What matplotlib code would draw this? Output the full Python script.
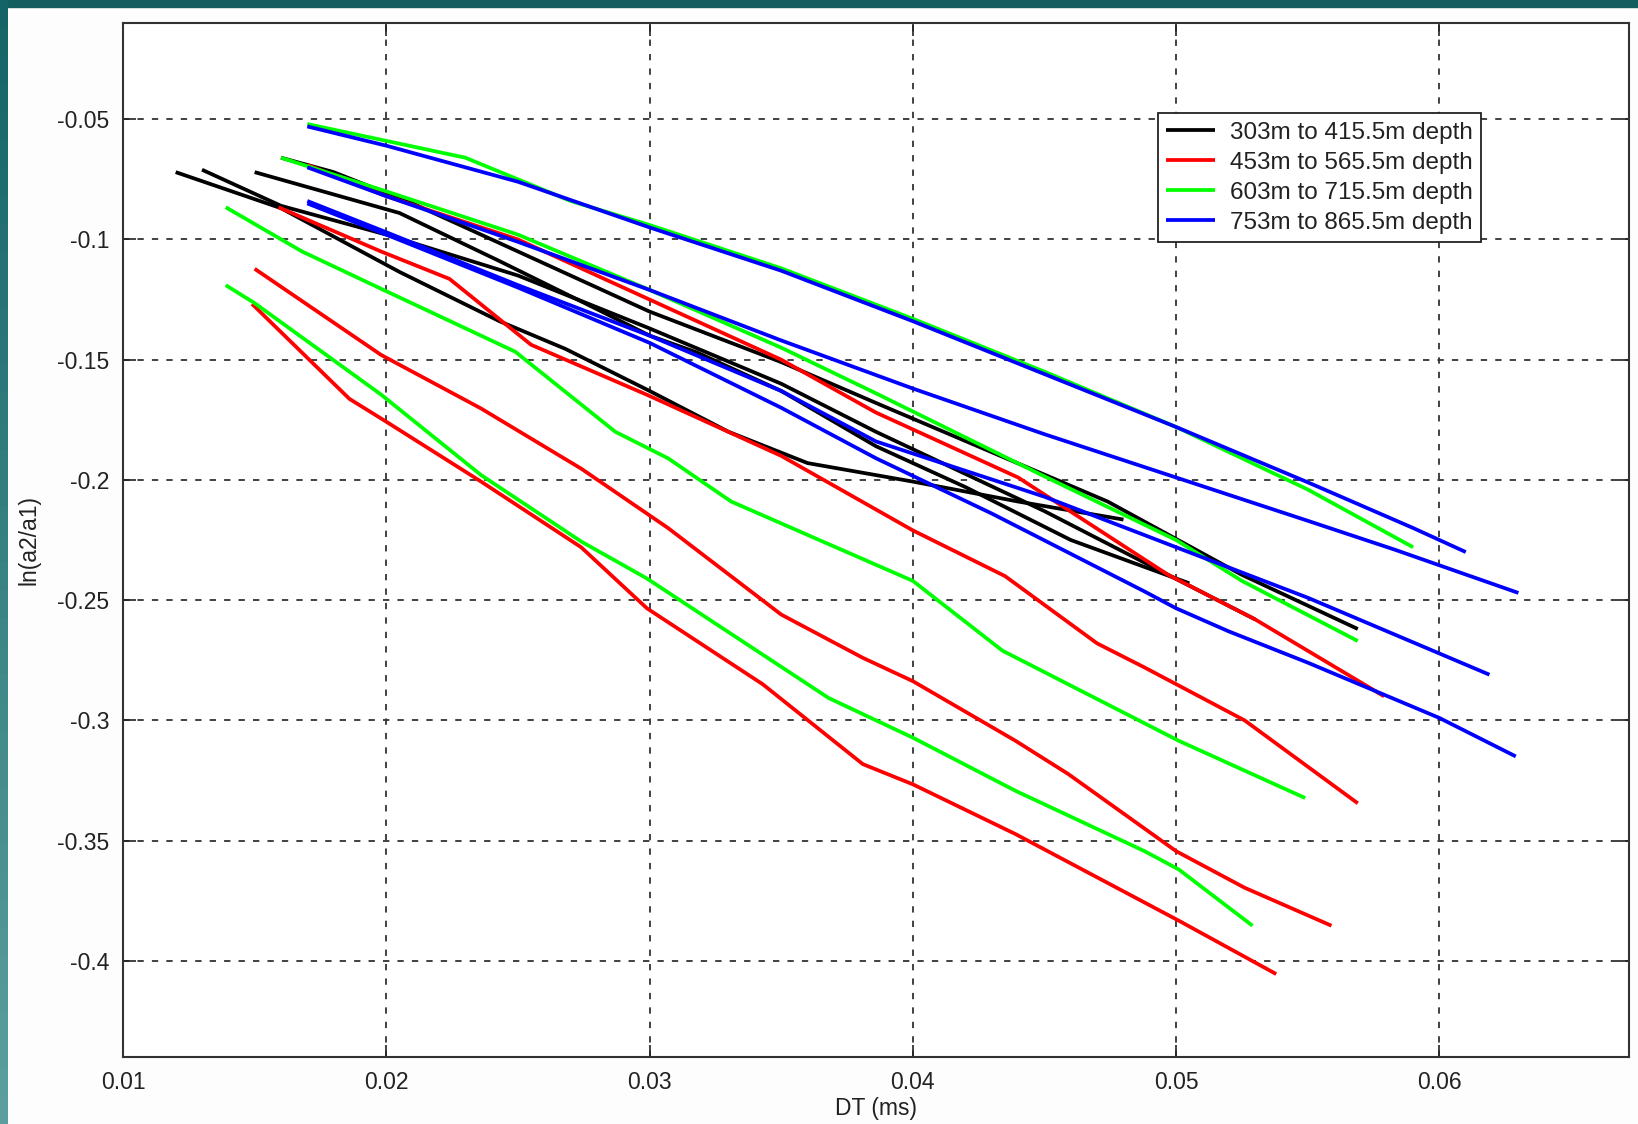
import numpy as np
import matplotlib
matplotlib.use('Agg')
import matplotlib.pyplot as plt
from matplotlib.patches import Rectangle

plt.rcParams['font.family'] = ['Liberation Sans', 'DejaVu Sans']

# legend labels, one colour per depth window
labels = ['303m to 415.5m depth', '453m to 565.5m depth',
          '603m to 715.5m depth', '753m to 865.5m depth']
colors = ['#000000', '#ff0000', '#00ff00', '#0000ff']

# black curves (303m to 415.5m)
k1_x = [0.012, 0.016, 0.0205, 0.0243, 0.0268, 0.030, 0.033, 0.036, 0.040, 0.044, 0.048]
k1_y = [-0.072, -0.087, -0.1135, -0.134, -0.1455, -0.163, -0.180, -0.193, -0.2007, -0.209, -0.2165]
k2_x = [0.013, 0.016, 0.020, 0.025, 0.030, 0.035, 0.0386, 0.045, 0.0497, 0.053]
k2_y = [-0.071, -0.086, -0.098, -0.115, -0.137, -0.160, -0.180, -0.213, -0.2395, -0.258]
k3_x = [0.015, 0.0205, 0.0243, 0.028, 0.030, 0.0318, 0.035, 0.0386, 0.042, 0.046, 0.0505]
k3_y = [-0.072, -0.089, -0.109, -0.129, -0.140, -0.147, -0.163, -0.186, -0.203, -0.225, -0.243]
k4_x = [0.016, 0.018, 0.021, 0.025, 0.030, 0.035, 0.0386, 0.0474, 0.0525, 0.0569]
k4_y = [-0.066, -0.072, -0.085, -0.105, -0.130, -0.151, -0.168, -0.209, -0.2395, -0.262]

# red curves (453m to 565.5m)
r1_x = [0.017, 0.020, 0.025, 0.030, 0.035, 0.0386, 0.044, 0.0497, 0.053, 0.0579]
r1_y = [-0.069, -0.082, -0.100, -0.125, -0.150, -0.172, -0.199, -0.2395, -0.258, -0.290]
r2_x = [0.0159, 0.0198, 0.0224, 0.0255, 0.0299, 0.035, 0.040, 0.0435, 0.047, 0.0488, 0.0526, 0.0569]
r2_y = [-0.0866, -0.105, -0.1164, -0.1438, -0.1646, -0.190, -0.221, -0.240, -0.268, -0.278, -0.300, -0.3345]
r3_x = [0.015, 0.0198, 0.0236, 0.0274, 0.0307, 0.035, 0.0381, 0.040, 0.0439, 0.0459, 0.050, 0.0526, 0.0559]
r3_y = [-0.1122, -0.148, -0.1703, -0.1953, -0.220, -0.256, -0.274, -0.2837, -0.3085, -0.3223, -0.3544, -0.3696, -0.3854]
r4_x = [0.0149, 0.0186, 0.020, 0.0236, 0.0274, 0.0299, 0.0343, 0.0381, 0.040, 0.0439, 0.0501, 0.0538]
r4_y = [-0.1268, -0.1663, -0.1758, -0.2007, -0.228, -0.2534, -0.285, -0.3182, -0.3266, -0.3473, -0.3833, -0.4055]

# green curves (603m to 715.5m)
g1_x = [0.017, 0.020, 0.023, 0.025, 0.027, 0.030, 0.035, 0.040, 0.045, 0.050, 0.055, 0.059]
g1_y = [-0.052, -0.059, -0.066, -0.075, -0.084, -0.094, -0.112, -0.133, -0.155, -0.178, -0.204, -0.228]
g2_x = [0.016, 0.018, 0.020, 0.025, 0.030, 0.035, 0.0386, 0.0449, 0.050, 0.0525, 0.0569]
g2_y = [-0.066, -0.073, -0.080, -0.098, -0.121, -0.145, -0.164, -0.198, -0.225, -0.242, -0.267]
g3_x = [0.0139, 0.0168, 0.0198, 0.0249, 0.0287, 0.0307, 0.0331, 0.040, 0.0434, 0.0501, 0.0549]
g3_y = [-0.0866, -0.105, -0.1205, -0.1467, -0.180, -0.191, -0.209, -0.242, -0.271, -0.3085, -0.3323]
g4_x = [0.0139, 0.015, 0.0198, 0.0236, 0.0274, 0.0299, 0.0368, 0.040, 0.0439, 0.0488, 0.0501, 0.0529]
g4_y = [-0.119, -0.1265, -0.1645, -0.198, -0.2256, -0.241, -0.2907, -0.3072, -0.3293, -0.3544, -0.362, -0.3854]

# blue curves (753m to 865.5m)
b1_x = [0.017, 0.020, 0.025, 0.030, 0.035, 0.040, 0.045, 0.050, 0.055, 0.059, 0.061]
b1_y = [-0.053, -0.061, -0.076, -0.095, -0.113, -0.134, -0.156, -0.178, -0.201, -0.220, -0.230]
b2_x = [0.017, 0.020, 0.025, 0.030, 0.035, 0.040, 0.045, 0.050, 0.055, 0.0583, 0.063]
b2_y = [-0.070, -0.082, -0.101, -0.121, -0.142, -0.162, -0.181, -0.199, -0.217, -0.229, -0.247]
b3_x = [0.017, 0.020, 0.025, 0.030, 0.035, 0.0386, 0.045, 0.050, 0.055, 0.0619]
b3_y = [-0.084, -0.097, -0.119, -0.140, -0.163, -0.184, -0.207, -0.228, -0.249, -0.281]
b4_x = [0.017, 0.020, 0.025, 0.030, 0.035, 0.0386, 0.043, 0.0488, 0.050, 0.052, 0.055, 0.060, 0.0629]
b4_y = [-0.085, -0.098, -0.120, -0.143, -0.170, -0.191, -0.214, -0.2464, -0.2534, -0.263, -0.276, -0.299, -0.315]

xticks = [0.01, 0.02, 0.03, 0.04, 0.05, 0.06]
xtick_labels = ['0.01', '0.02', '0.03', '0.04', '0.05', '0.06']
yticks = [-0.05, -0.1, -0.15, -0.2, -0.25, -0.3, -0.35, -0.4]
ytick_labels = ['-0.05', '-0.1', '-0.15', '-0.2', '-0.25', '-0.3', '-0.35', '-0.4']

groups = [
    [(k1_x, k1_y), (k2_x, k2_y), (k3_x, k3_y), (k4_x, k4_y)],
    [(r1_x, r1_y), (r2_x, r2_y), (r3_x, r3_y), (r4_x, r4_y)],
    [(g1_x, g1_y), (g2_x, g2_y), (g3_x, g3_y), (g4_x, g4_y)],
    [(b1_x, b1_y), (b2_x, b2_y), (b3_x, b3_y), (b4_x, b4_y)],
]

fig = plt.figure(figsize=(16.38, 11.24), dpi=100)
fig.patch.set_facecolor('#fdfdfd')

# teal slide border (top and left)
fig.patches.append(Rectangle((0, 0.994), 1, 0.006, transform=fig.transFigure,
                             color='#145e60', zorder=0))
n = 40
top_c = np.array([0.08, 0.39, 0.40])
bot_c = np.array([0.36, 0.62, 0.62])
for i in range(n):
    c = top_c + (bot_c - top_c) * i / (n - 1)
    fig.patches.append(Rectangle((0, 1 - (i + 1) / n), 0.005, 1 / n, transform=fig.transFigure,
                                 color=c, zorder=0, lw=0))

ax = fig.add_axes([0.0751, 0.0596, 0.9194, 0.9199])

handles = []
for grp, col, lab in zip(groups, colors, labels):
    for j, (xs, ys) in enumerate(grp):
        ln, = ax.plot(xs, ys, color=col, lw=2.7, solid_capstyle='butt',
                      solid_joinstyle='round', label=lab if j == 0 else None)
        if j == 0:
            handles.append(ln)

ax.set_xlim(0.01, 0.0672)
ax.set_ylim(-0.44, -0.01)
ax.set_xticks(xticks)
ax.set_xticklabels(xtick_labels)
ax.set_yticks(yticks)
ax.set_yticklabels(ytick_labels)
ax.tick_params(direction='in', length=9, width=1.2, top=True, right=True,
               labelsize=16.5, colors='#222222', pad=10)
ax.grid(True, color='#333333', linestyle=(0, (3.5, 4.5)), lw=1.3)
for s in ax.spines.values():
    s.set_color('#333333')
    s.set_linewidth(1.5)

ax.set_xlabel('DT (ms)', fontsize=16.5, color='#222222', labelpad=2)
ax.set_ylabel('ln(a2/a1)', fontsize=16.5, color='#222222', labelpad=12)

leg = ax.legend(handles=handles, loc='upper right', bbox_to_anchor=(0.9017, 0.913),
                borderaxespad=0, fontsize=17.5, handlelength=2.0, handletextpad=0.6,
                labelspacing=0.33, borderpad=0.35, fancybox=False, framealpha=1,
                edgecolor='#222222')
leg.get_frame().set_linewidth(1.3)
for t in leg.get_texts():
    t.set_color('#222222')

fig.savefig('out.png', dpi=100, facecolor=fig.get_facecolor())
